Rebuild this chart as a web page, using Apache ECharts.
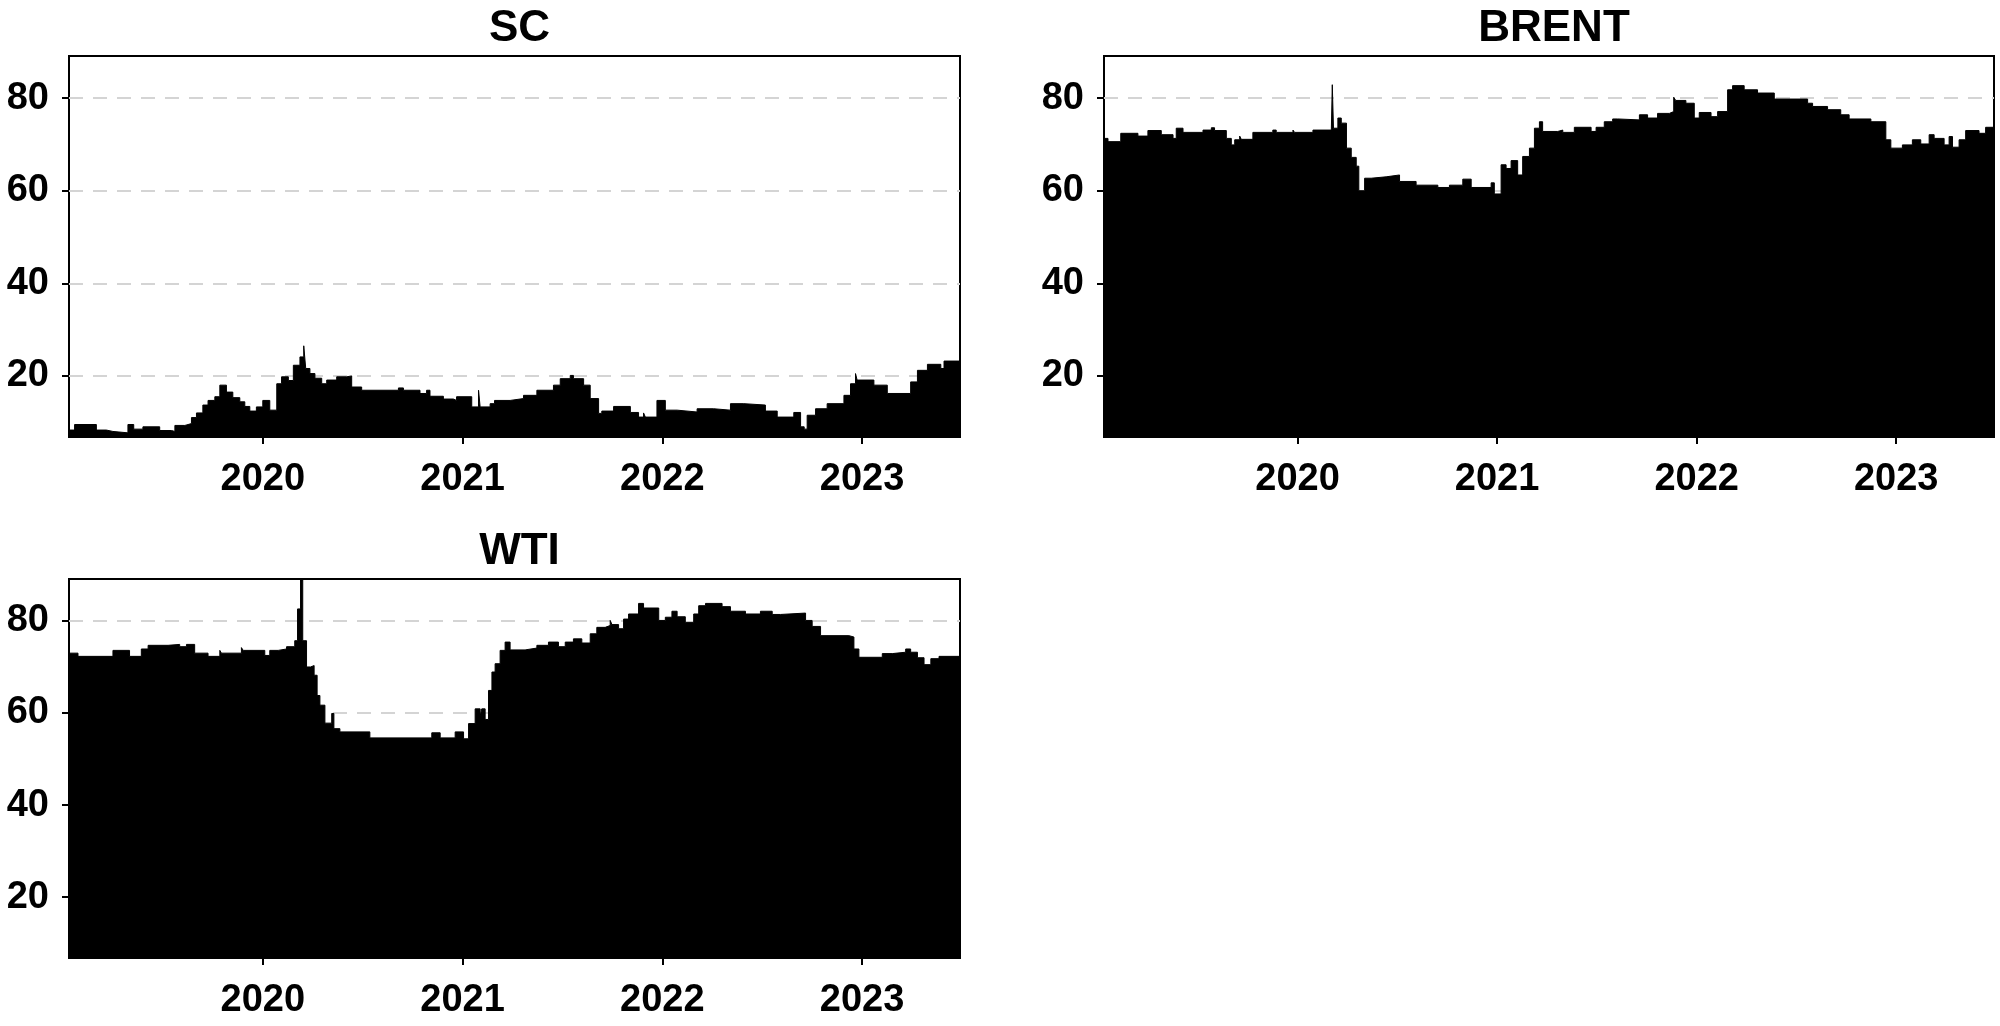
<!DOCTYPE html>
<html>
<head>
<meta charset="utf-8">
<title>SC / BRENT / WTI</title>
<script src="https://cdn.jsdelivr.net/npm/echarts@6/dist/echarts.min.js"></script>
<style>
  html, body { margin: 0; padding: 0; background: #fff; }
  #main { width: 2000px; height: 1026px; }
</style>
</head>
<body>
<div id="main"></div>
<script>
// values, held from each date until the next one (decimal years)
const yearTicks = [2020, 2021, 2022, 2023];
const valueTicks = [20, 40, 60, 80];

const scDates = [2019.03, 2019.058, 2019.167, 2019.217, 2019.25, 2019.325, 2019.354, 2019.40, 2019.484, 2019.543,
  2019.56, 2019.61, 2019.643, 2019.668, 2019.70, 2019.726, 2019.76, 2019.785, 2019.818, 2019.85,
  2019.885, 2019.91, 2019.935, 2019.968, 2020.00, 2020.035, 2020.07, 2020.094, 2020.128, 2020.153,
  2020.186, 2020.205, 2020.215, 2020.236, 2020.261, 2020.295, 2020.32, 2020.37, 2020.42, 2020.445,
  2020.495, 2020.679, 2020.704, 2020.787, 2020.82, 2020.837, 2020.904, 2020.954, 2020.97, 2021.046,
  2021.08, 2021.088, 2021.138, 2021.16, 2021.238, 2021.305, 2021.372, 2021.455, 2021.489, 2021.539,
  2021.555, 2021.606, 2021.639, 2021.681, 2021.697, 2021.756, 2021.84, 2021.881, 2021.906, 2021.915,
  2021.973, 2022.015, 2022.074, 2022.174, 2022.257, 2022.341, 2022.408, 2022.516, 2022.575, 2022.658,
  2022.692, 2022.71, 2022.725, 2022.767, 2022.825, 2022.909, 2022.942, 2022.967, 2022.975, 2023.059,
  2023.126, 2023.243, 2023.277, 2023.327, 2023.394, 2023.41, 2023.49];
const scValues = [8.3, 9.5, 8.3, 8.0, 7.7, 9.5, 8.5, 9.0, 8.2, 8.0,
  9.3, 9.7, 11.0, 12.0, 13.7, 14.7, 15.5, 18.0, 16.5, 15.3,
  14.4, 13.4, 12.4, 13.3, 14.7, 12.6, 18.3, 19.8, 19.0, 22.3,
  24.1, 26.5, 21.6, 20.5, 19.5, 18.3, 19.1, 19.8, 20.0, 17.6,
  16.9, 17.4, 16.9, 16.2, 16.9, 15.6, 15.0, 14.7, 15.5, 13.3,
  16.9, 13.3, 14.0, 14.7, 15.1, 15.8, 16.9, 18.0, 19.4, 20.1,
  19.4, 18.0, 15.1, 11.9, 12.4, 13.4, 12.1, 11.1, 12.0, 11.1,
  14.7, 12.6, 12.2, 12.9, 12.6, 14.0, 13.7, 12.4, 11.1, 12.1,
  9.0, 8.5, 11.5, 12.9, 14.0, 15.8, 18.3, 20.5, 19.1, 18.0,
  16.2, 18.7, 21.2, 22.5, 21.6, 23.2, 23.2];

const brentDates = [2019.02, 2019.05, 2019.114, 2019.2, 2019.25, 2019.317, 2019.376, 2019.392, 2019.426, 2019.526,
  2019.568, 2019.584, 2019.643, 2019.668, 2019.685, 2019.71, 2019.718, 2019.776, 2019.876, 2019.893,
  2019.977, 2019.985, 2020.077, 2020.169, 2020.174, 2020.18, 2020.202, 2020.219, 2020.245, 2020.269,
  2020.294, 2020.307, 2020.336, 2020.369, 2020.444, 2020.511, 2020.594, 2020.703, 2020.761, 2020.828,
  2020.87, 2020.97, 2020.986, 2021.02, 2021.045, 2021.07, 2021.103, 2021.128, 2021.162, 2021.187,
  2021.212, 2021.228, 2021.304, 2021.329, 2021.387, 2021.471, 2021.496, 2021.537, 2021.579, 2021.604,
  2021.713, 2021.754, 2021.804, 2021.863, 2021.885, 2021.895, 2021.946, 2021.988, 2022.013, 2022.072,
  2022.105, 2022.155, 2022.18, 2022.238, 2022.305, 2022.389, 2022.556, 2022.581, 2022.656, 2022.722,
  2022.764, 2022.873, 2022.948, 2022.973, 2023.031, 2023.081, 2023.123, 2023.165, 2023.19, 2023.24,
  2023.265, 2023.282, 2023.315, 2023.348, 2023.415, 2023.448, 2023.49];
const brentValues = [71.3, 70.6, 72.4, 71.8, 73.0, 72.1, 71.3, 73.5, 72.6, 73.1,
  73.6, 73.0, 71.3, 69.9, 71.0, 71.8, 71.1, 72.6, 73.1, 72.6,
  73.1, 72.6, 73.1, 72.6, 82.9, 73.5, 75.7, 74.6, 69.2, 67.2,
  65.3, 60.0, 62.7, 63.0, 63.4, 62.0, 61.2, 60.7, 61.2, 62.5,
  60.7, 61.7, 59.3, 65.6, 64.8, 66.5, 63.4, 67.4, 69.2, 73.5,
  74.9, 72.8, 73.1, 72.6, 73.7, 72.8, 73.7, 74.9, 75.5, 75.3,
  76.4, 75.7, 76.7, 77.1, 80.2, 79.5, 78.9, 75.7, 76.9, 76.0,
  77.1, 81.8, 82.7, 81.8, 81.1, 79.8, 78.9, 78.2, 77.5, 76.4,
  75.5, 74.9, 71.0, 69.2, 69.9, 71.0, 70.1, 72.1, 71.3, 69.9,
  71.7, 69.4, 71.0, 73.0, 72.4, 73.7, 73.7];

const wtiDates = [2019.03, 2019.075, 2019.25, 2019.333, 2019.392, 2019.426, 2019.526, 2019.584, 2019.618, 2019.659,
  2019.726, 2019.785, 2019.793, 2019.893, 2019.902, 2020.01, 2020.035, 2020.077, 2020.119, 2020.16,
  2020.174, 2020.189, 2020.2, 2020.219, 2020.239, 2020.257, 2020.272, 2020.286, 2020.311, 2020.345,
  2020.356, 2020.386, 2020.536, 2020.846, 2020.888, 2020.963, 2021.005, 2021.03, 2021.063, 2021.088,
  2021.096, 2021.113, 2021.13, 2021.147, 2021.163, 2021.188, 2021.213, 2021.238, 2021.313, 2021.372,
  2021.43, 2021.48, 2021.514, 2021.555, 2021.597, 2021.639, 2021.672, 2021.714, 2021.739, 2021.748,
  2021.781, 2021.806, 2021.831, 2021.881, 2021.906, 2021.982, 2022.015, 2022.048, 2022.074, 2022.115,
  2022.157, 2022.182, 2022.216, 2022.299, 2022.341, 2022.416, 2022.491, 2022.55, 2022.592, 2022.717,
  2022.75, 2022.792, 2022.934, 2022.959, 2022.984, 2023.101, 2023.151, 2023.218, 2023.243, 2023.277,
  2023.31, 2023.344, 2023.385, 2023.49];
const wtiValues = [73.0, 72.3, 73.6, 72.3, 73.9, 74.7, 74.9, 74.4, 74.9, 73.0,
  72.3, 73.6, 73.0, 74.2, 73.6, 72.5, 73.6, 73.9, 74.4, 75.7,
  82.6, 88.9, 75.7, 70.0, 70.3, 68.2, 63.8, 61.7, 57.8, 59.9,
  56.6, 55.9, 54.6, 55.7, 54.6, 55.9, 54.4, 57.7, 60.9, 59.3,
  60.9, 58.6, 64.9, 68.9, 70.7, 73.6, 75.4, 73.7, 74.1, 74.7,
  75.4, 74.4, 75.4, 76.1, 75.2, 77.2, 78.6, 79.0, 80.1, 79.2,
  78.3, 80.4, 81.5, 83.8, 82.8, 80.1, 80.8, 82.1, 80.9, 79.7,
  81.5, 83.3, 83.8, 83.1, 82.1, 81.5, 82.1, 81.4, 81.7, 80.1,
  78.8, 76.8, 76.5, 73.9, 72.1, 72.9, 73.2, 73.9, 73.2, 72.0,
  70.5, 71.8, 72.3, 72.3];

const panels = [
  {name: 'SC', dates: scDates, values: scValues, left: 69, top: 56, width: 891, height: 381},
  {name: 'BRENT', dates: brentDates, values: brentValues, left: 1104, top: 56, width: 890, height: 381},
  {name: 'WTI', dates: wtiDates, values: wtiValues, left: 69, top: 579, width: 891, height: 379}
];

const font = 'Liberation Sans';
const chart = echarts.init(document.getElementById('main'));

chart.setOption({
  animation: false,
  backgroundColor: '#fff',
  title: panels.map(p => ({
    text: p.name,
    left: p.left + p.width / 2,
    top: p.top - 54,
    textAlign: 'center',
    textStyle: {fontFamily: font, fontWeight: 'bold', fontSize: 44, color: '#000'}
  })),
  grid: panels.map(p => ({
    left: p.left, top: p.top, width: p.width, height: p.height,
    show: true, borderColor: '#000', borderWidth: 2, backgroundColor: 'transparent'
  })),
  xAxis: panels.map((p, i) => ({
    type: 'value', gridIndex: i, min: 2019.03, max: 2023.49,
    axisLine: {show: false},
    splitLine: {show: false},
    axisTick: {show: true, customValues: yearTicks, length: 7, lineStyle: {color: '#000', width: 2}},
    axisLabel: {
      customValues: yearTicks, margin: 24,
      fontFamily: font, fontWeight: 'bold', fontSize: 38, color: '#000',
      formatter: v => String(Math.round(v))
    }
  })),
  yAxis: panels.map((p, i) => ({
    type: 'value', gridIndex: i, min: 6.8, max: 89.1,
    axisLine: {show: false},
    axisTick: {show: true, customValues: valueTicks, length: 7, lineStyle: {color: '#000', width: 2}},
    splitLine: {show: true, lineStyle: {color: '#d4d4d4', width: 2, type: [14, 10]}},
    axisLabel: {
      customValues: valueTicks, margin: 20,
      fontFamily: font, fontWeight: 'bold', fontSize: 38, color: '#000'
    }
  })),
  series: panels.map((p, i) => ({
    name: p.name,
    type: 'line',
    xAxisIndex: i, yAxisIndex: i,
    step: 'end',
    symbol: 'none',
    lineStyle: {color: '#000', width: 1},
    areaStyle: {color: '#000', opacity: 1, origin: 'start'},
    data: p.dates.map((d, k) => [d, p.values[k]])
  }))
});
</script>
</body>
</html>
